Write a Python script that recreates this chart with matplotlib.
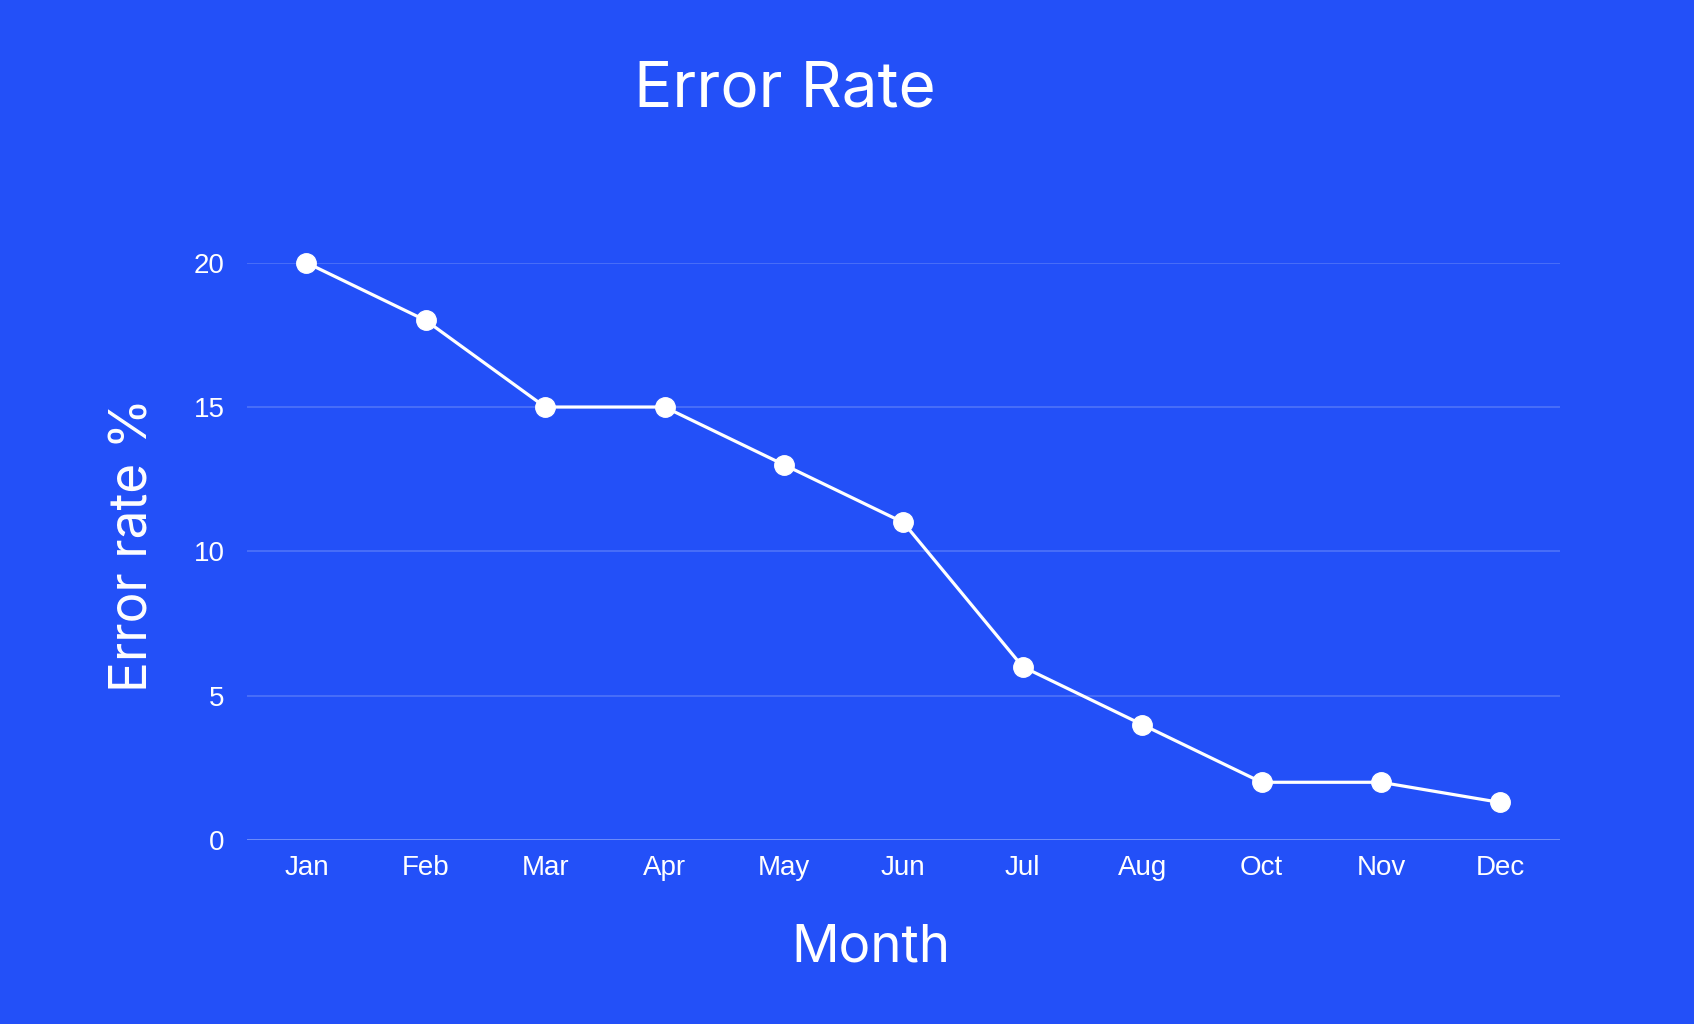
import matplotlib.pyplot as plt

months = ['Jan', 'Feb', 'Mar', 'Apr', 'May', 'Jun', 'Jul', 'Aug', 'Oct', 'Nov', 'Dec']
error_rate = [20, 18, 15, 15, 13, 11, 6, 4, 2, 2, 1.3]
yticks = [0, 5, 10, 15, 20]

bg = '#2350f8'
W, H = 1694, 1024

fig = plt.figure(figsize=(W / 100, H / 100), dpi=100, facecolor=bg)
left, right = 246.7 / W, 1560 / W
bottom, top = 1 - 840 / H, 1 - 262.7 / H
ax = fig.add_axes([left, bottom, right - left, top - bottom], facecolor=bg)

x = list(range(len(months)))
ax.plot(x, error_rate, color='white', lw=2.3, marker='o', ms=14,
        clip_on=False, zorder=3)

ax.set_xlim(-0.5, len(months) - 0.5)
ax.set_ylim(0, 20)
ax.set_xticks(x)
ax.set_xticklabels(months)
ax.set_yticks(yticks)
for s in ax.spines.values():
    s.set_visible(False)
for t in yticks:
    ax.axhline(t, color='#7b97fa' if t == 0 else '#4f74f9', lw=1.2, zorder=1)

ax.tick_params(length=0, colors='white', labelsize=20, labelfontfamily='Liberation Sans')
ax.tick_params(axis='x', pad=11)
ax.tick_params(axis='y', pad=16)

fig.text(785 / W, 1 - 90 / H, 'Error Rate', color='white', fontsize=46,
         family='Inter', ha='center', va='center')
fig.text(871 / W, 1 - 948 / H, 'Month', color='white', fontsize=38,
         family='Inter', ha='center', va='center')
fig.text(134 / W, 1 - 545 / H, 'Error rate %', color='white', fontsize=37,
         family='Inter', ha='center', va='center', rotation=90)

fig.savefig('out.png', dpi=100, facecolor=bg)
